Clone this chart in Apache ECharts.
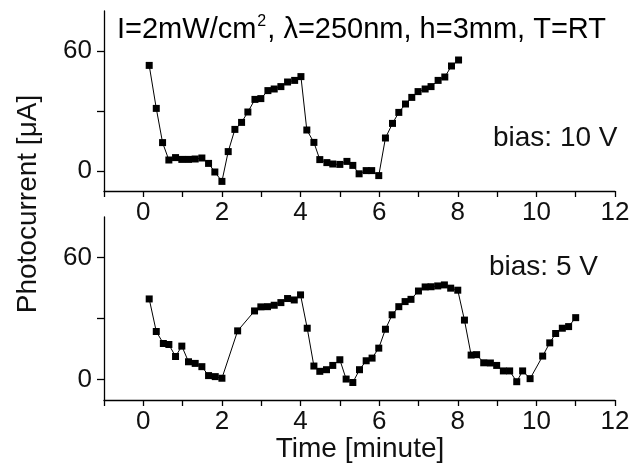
<!DOCTYPE html>
<html>
<head>
<meta charset="utf-8">
<script src="https://cdn.jsdelivr.net/npm/echarts@6/dist/echarts.min.js"></script>
<style>
  html, body { margin: 0; padding: 0; background: #fff; }
  #chart { width: 632px; height: 467px; }
</style>
</head>
<body>
<div id="chart"></div>
<script>
// bias 10 V (top panel)
const timeTop = [0.15, 0.33, 0.49, 0.65, 0.82, 0.98, 1.15, 1.32, 1.49, 1.66, 1.82, 2.0,
  2.16, 2.33, 2.5, 2.66, 2.84, 2.99, 3.17, 3.33, 3.5, 3.67, 3.85, 4.01,
  4.16, 4.34, 4.49, 4.67, 4.82, 5.0, 5.18, 5.33, 5.49, 5.67, 5.81, 5.99,
  6.16, 6.34, 6.5, 6.67, 6.83, 6.99, 7.17, 7.32, 7.5, 7.67, 7.84, 8.02];
const currentTop = [52.8, 31.3, 14.2, 5.5, 6.7, 5.8, 5.8, 6.0, 6.5, 3.8, -0.5, -5.2,
  9.7, 20.8, 24.3, 29.5, 35.8, 36.2, 40.2, 41.0, 42.2, 44.5, 45.3, 47.2,
  20.5, 14.3, 5.7, 4.2, 3.5, 3.3, 4.8, 2.8, -1.4, 0.2, 0.2, -2.3,
  16.5, 23.8, 29.3, 33.5, 36.8, 39.7, 41.0, 42.2, 45.3, 47.0, 52.5, 55.5];

// bias 5 V (bottom panel)
const timeBottom = [0.15, 0.33, 0.51, 0.65, 0.82, 0.98, 1.15, 1.32, 1.49, 1.66, 1.83, 2.0,
  2.4, 2.83, 2.99, 3.16, 3.33, 3.5, 3.67, 3.84, 4.0,
  4.17, 4.34, 4.49, 4.66, 4.82, 5.0, 5.16, 5.33, 5.5, 5.67, 5.82, 5.99,
  6.16, 6.33, 6.5, 6.66, 6.81, 7.0, 7.17, 7.32, 7.49, 7.66, 7.82, 8.0,
  8.17, 8.34, 8.48, 8.66, 8.83, 8.99, 9.16, 9.32, 9.5, 9.65, 9.84,
  10.16, 10.34, 10.49, 10.66, 10.82, 11.0];
const currentBottom = [39.7, 23.7, 17.8, 17.3, 11.4, 16.5, 8.8, 8.0, 6.4, 2.0, 1.5, 0.7,
  24.0, 33.8, 35.8, 35.9, 36.6, 37.9, 39.9, 39.2, 41.7,
  25.3, 6.7, 4.1, 4.9, 7.0, 9.8, 0.3, -1.4, 4.9, 9.3, 10.6, 15.5,
  24.8, 31.9, 35.9, 38.4, 39.5, 43.6, 45.6, 45.7, 46.1, 46.6, 45.0, 44.0,
  29.3, 12.1, 12.3, 8.3, 8.2, 7.0, 4.3, 4.3, -1.0, 4.3, 0.5,
  11.6, 18.1, 22.7, 25.3, 26.1, 30.5];

const xTicks = [-1, 0, 1, 2, 3, 4, 5, 6, 7, 8, 9, 10, 11, 12];
const xLabels = [0, 2, 4, 6, 8, 10, 12];
const yTicks = [0, 30, 60];
const yLabels = [0, 60];

const biasTop = "bias: 10 V";
const biasBottom = "bias: 5 V";

const FONT = '"Liberation Sans", Arial, sans-serif';

function zip(xs, ys) {
  return xs.map((x, i) => [x, ys[i]]);
}

function makeXAxis(gridIndex) {
  return {
    type: "value", gridIndex: gridIndex, min: -1, max: 12,
    axisLine: {onZero: false, lineStyle: {color: "#000", width: 1.3}},
    axisTick: {show: true, length: 6, customValues: xTicks, lineStyle: {color: "#000", width: 1.3}},
    axisLabel: {customValues: xLabels, margin: 9, color: "#111", fontSize: 26, fontFamily: FONT},
    splitLine: {show: false}
  };
}

function makeYAxis(gridIndex) {
  return {
    type: "value", gridIndex: gridIndex, min: -10, max: 80,
    axisLine: {show: true, onZero: false, lineStyle: {color: "#000", width: 1.3}},
    axisTick: {show: true, length: 7, customValues: yTicks, lineStyle: {color: "#000", width: 1.3}},
    axisLabel: {customValues: yLabels, margin: 12, color: "#111", fontSize: 26, fontFamily: FONT},
    splitLine: {show: false}
  };
}

function makeSeries(idx, data) {
  return {
    type: "line", xAxisIndex: idx, yAxisIndex: idx, data: data,
    symbol: "rect", symbolSize: 7, showAllSymbol: true,
    itemStyle: {color: "#000"},
    lineStyle: {color: "#000", width: 1},
    animation: false
  };
}

const chart = echarts.init(document.getElementById("chart"));

chart.setOption({
  backgroundColor: "#fff",
  animation: false,
  grid: [
    {left: 104, top: 11, width: 511, height: 180, outerBoundsMode: "none"},
    {left: 104, top: 217, width: 511, height: 183, outerBoundsMode: "none"}
  ],
  xAxis: [makeXAxis(0), makeXAxis(1)],
  yAxis: [makeYAxis(0), makeYAxis(1)],
  series: [makeSeries(0, zip(timeTop, currentTop)), makeSeries(1, zip(timeBottom, currentBottom))],
  graphic: [
    {
      type: "text", left: 117, top: 14,
      style: {
        text: "{n|I=2mW/cm}{s|2}{n|, \u03bb=250nm, h=3mm, T=RT}",
        rich: {
          n: {fontSize: 29, fontFamily: FONT, color: "#111", lineHeight: 32},
          s: {fontSize: 16, fontFamily: FONT, color: "#111", verticalAlign: "top", padding: [0, 1, 0, 1]}
        }
      }
    },
    {type: "text", left: 493, top: 124, style: {text: biasTop, fill: "#111", font: "28px " + FONT}},
    {type: "text", left: 489, top: 253, style: {text: biasBottom, fill: "#111", font: "28px " + FONT}},
    {type: "text", x: 360, y: 449, style: {text: "Time [minute]", fill: "#111", font: "28px " + FONT, align: "center", verticalAlign: "middle"}},
    {type: "text", x: 28, y: 204, rotation: Math.PI / 2, style: {text: "Photocurrent [\u03bcA]", fill: "#111", font: "28px " + FONT, align: "center", verticalAlign: "middle"}}
  ]
});
</script>
</body>
</html>
